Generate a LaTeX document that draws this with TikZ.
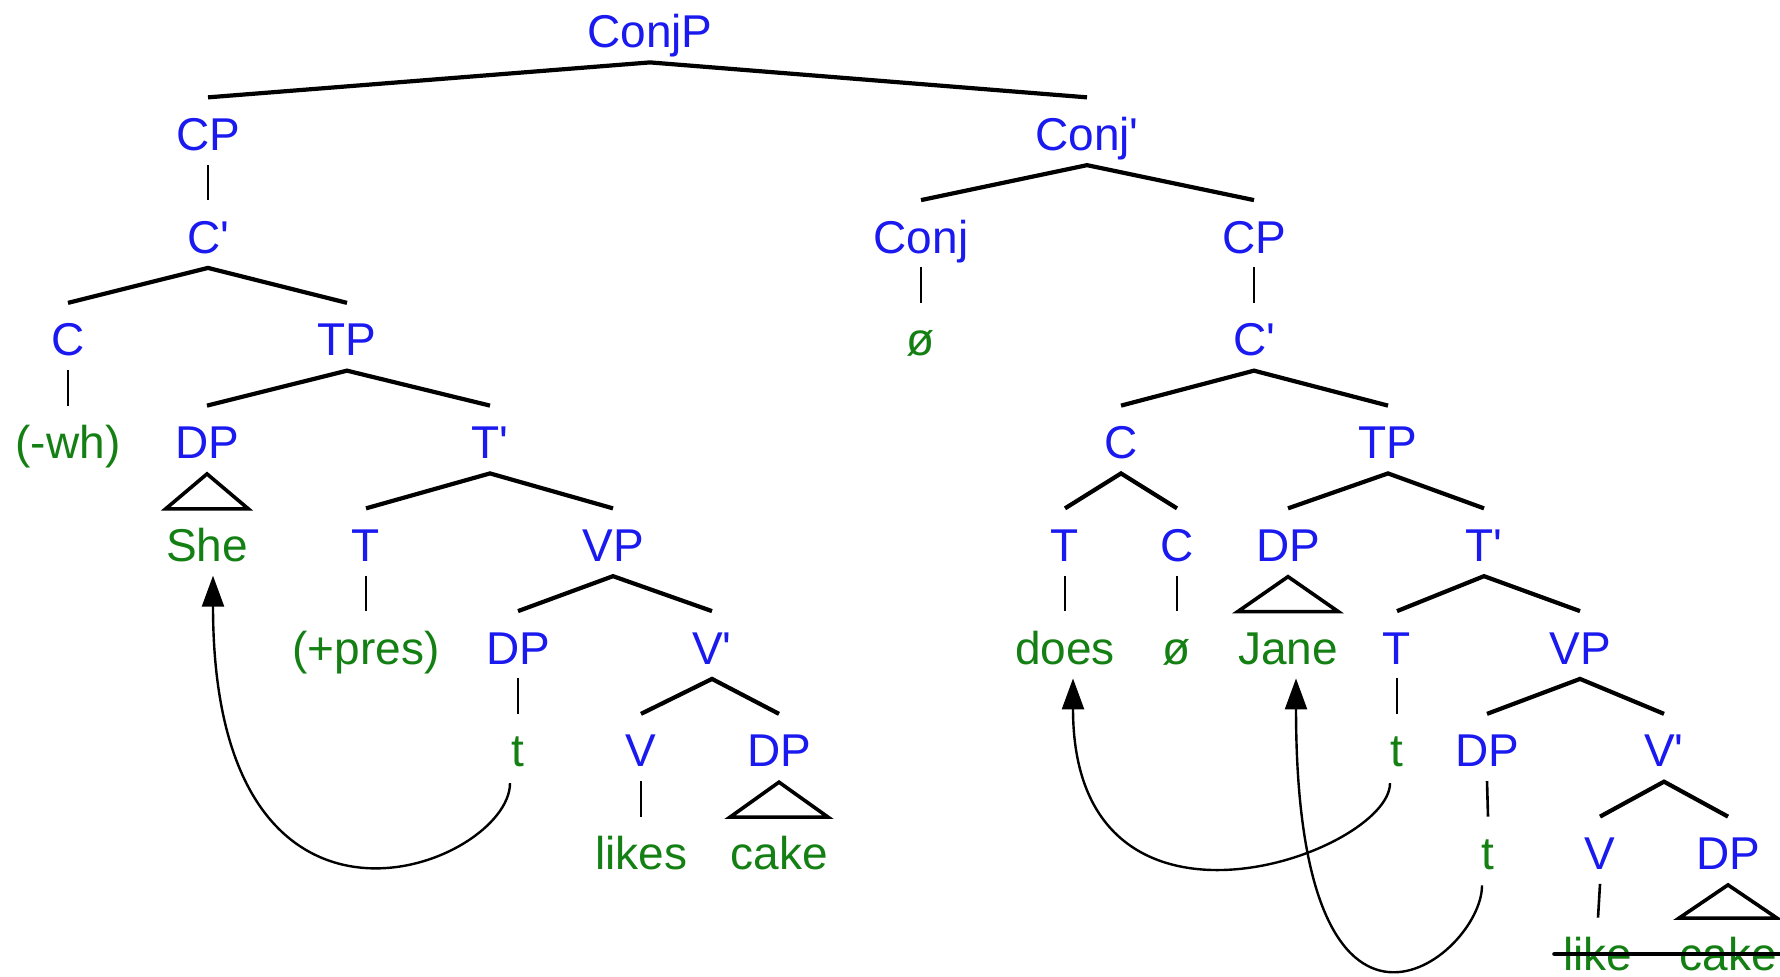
\documentclass[tikz,border=0pt]{standalone}
\usepackage{fontspec}
\setmainfont{Liberation Sans}
\usetikzlibrary{arrows.meta}
\definecolor{lblue}{RGB}{25,25,240}
\definecolor{lgreen}{RGB}{20,128,20}
\tikzset{
  lab/.style={inner sep=0pt, text height=16.5pt, text depth=0pt, font=\fontsize{23}{27}\selectfont},
  cat/.style={lab, text=lblue},
  word/.style={lab, text=lgreen},
  branch/.style={draw=black, line width=2.1pt},
  unary/.style={draw=black, line width=1.3pt},
  trian/.style={draw=black, line width=1.8pt, line join=miter},
  arr/.style={draw=black, line width=1.2pt, -{Triangle[length=15.5pt,width=11pt]}},
  strike/.style={draw=black, line width=2.4pt, line cap=round}
}
\newcommand\pr{\textquotesingle}
\newcommand\mybr[3]{\draw[branch] ([yshift=9.75pt]#2.north) -- ([yshift=-7.25pt]#1.south) -- ([yshift=9.75pt]#3.north);}
\newcommand\myun[2]{\draw[unary] ([yshift=-7pt]#1.south) -- ([yshift=9.75pt]#2.north);}
\newcommand\mytri[2]{\draw[trian] ([yshift=-7.5pt]#1.south) -- ([yshift=9.5pt]#2.north west) -- ([yshift=9.5pt]#2.north east) -- cycle;}
\begin{document}
\begin{tikzpicture}[x=0.5pt,y=-0.5pt]
\fill[white] (0,0) rectangle (1780,976);
\useasboundingbox (0,0) rectangle (1780,976);
% row 0
\node[cat] (conjp) at (650,31) {ConjP};
% row 1
\node[cat] (cp1) at (208,133.75) {CP};
\node[cat] (conjb) at (1087,133.75) {Conj\pr};
% row 2
\node[cat] (cb1) at (208,236.5) {C\pr};
\node[cat] (conj) at (921,236.5) {Conj};
\node[cat] (cp2) at (1254,236.5) {CP};
% row 3
\node[cat] (c1) at (68,339.25) {C};
\node[cat] (tp1) at (347,339.25) {TP};
\node[word] (null1) at (921,339.25) {ø};
\node[cat] (cb2) at (1254,339.25) {C\pr};
% row 4
\node[word] (wh) at (68,442) {(-wh)};
\node[cat] (dp1) at (207,442) {DP};
\node[cat] (tb1) at (490,442) {T\pr};
\node[cat] (c2) at (1121,442) {C};
\node[cat] (tp2) at (1388,442) {TP};
% row 5
\node[word] (she) at (207,544.75) {She};
\node[cat] (t1) at (366,544.75) {T};
\node[cat] (vp1) at (613,544.75) {VP};
\node[cat] (t2) at (1065,544.75) {T};
\node[cat] (c3) at (1177,544.75) {C};
\node[cat] (dp4) at (1288,544.75) {DP};
\node[cat] (tb2) at (1484,544.75) {T\pr};
% row 6
\node[word] (pres) at (366,647.5) {(+pres)};
\node[cat] (dp2) at (518,647.5) {DP};
\node[cat] (vb1) at (712,647.5) {V\pr};
\node[word] (does) at (1065,647.5) {does};
\node[word] (null2) at (1177,647.5) {ø};
\node[word] (jane) at (1288,647.5) {Jane};
\node[cat] (t3) at (1397,647.5) {T};
\node[cat] (vp2) at (1580,647.5) {VP};
% row 7
\node[word] (tr1) at (518,750.25) {t};
\node[cat] (v1) at (641,750.25) {V};
\node[cat] (dp3) at (779,750.25) {DP};
\node[word] (tr2) at (1397,750.25) {t};
\node[cat] (dp5) at (1487,750.25) {DP};
\node[cat] (vb2) at (1664,750.25) {V\pr};
% row 8
\node[word] (likes) at (641,853) {likes};
\node[word] (cake1) at (779,853) {cake};
\node[word] (tr3) at (1488,853) {t};
\node[cat] (v2) at (1600,853) {V};
\node[cat] (dp6) at (1728,853) {DP};
% row 9
\node[word] (like) at (1598,954) {like};
\node[word] (cake2) at (1728,954) {cake};

% tree lines
\mybr{conjp}{cp1}{conjb}
\myun{cp1}{cb1}
\mybr{cb1}{c1}{tp1}
\myun{c1}{wh}
\mybr{tp1}{dp1}{tb1}
\mytri{dp1}{she}
\mybr{tb1}{t1}{vp1}
\myun{t1}{pres}
\mybr{vp1}{dp2}{vb1}
\myun{dp2}{tr1}
\mybr{vb1}{v1}{dp3}
\myun{v1}{likes}
\mytri{dp3}{cake1}
\mybr{conjb}{conj}{cp2}
\myun{conj}{null1}
\myun{cp2}{cb2}
\mybr{cb2}{c2}{tp2}
\mybr{c2}{t2}{c3}
\myun{t2}{does}
\myun{c3}{null2}
\mybr{tp2}{dp4}{tb2}
\mytri{dp4}{jane}
\mybr{tb2}{t3}{vp2}
\myun{t3}{tr2}
\mybr{vp2}{dp5}{vb2}
\myun{dp5}{tr3}
\mybr{vb2}{v2}{dp6}
\myun{v2}{like}
\mytri{dp6}{cake2}

% strike-through
\draw[strike] ([xshift=-4.25pt]like.west) -- ([xshift=12pt]cake2.east);

% movement arrows
\draw[arr] ([xshift=-4pt,yshift=-8pt]tr1.south) .. controls +(0,82) and +(0,410) .. ([xshift=3pt,yshift=-7pt]she.south);
\draw[arr] ([xshift=-3.5pt,yshift=-8pt]tr2.south) .. controls +(0,70) and +(0,290) .. ([xshift=4pt,yshift=-7pt]does.south);
\draw[arr] ([xshift=-3pt,yshift=-7.75pt]tr3.south) .. controls +(0,72) and +(0,425) .. ([xshift=4pt,yshift=-7pt]jane.south);
\end{tikzpicture}
\end{document}
